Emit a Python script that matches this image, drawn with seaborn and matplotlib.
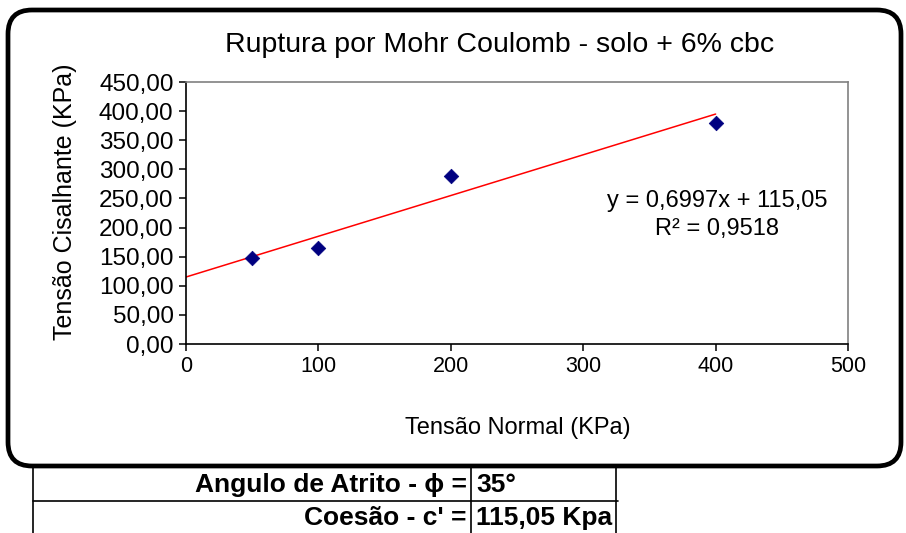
import numpy as np
import pandas as pd
import matplotlib
matplotlib.use("Agg")
import matplotlib.pyplot as plt
from matplotlib.patches import FancyBboxPatch
import seaborn as sns

# ---- data ----
normal_stress = [50, 100, 200, 400]          # Tensão Normal (KPa)
shear_stress = [148, 165, 289, 380]          # Tensão Cisalhante (KPa)
trend_slope = 0.6997
trend_intercept = 115.05
trend_x = [0, 400]
x_ticks = [0, 100, 200, 300, 400, 500]
x_tick_labels = ["0", "100", "200", "300", "400", "500"]
y_ticks = [0, 50, 100, 150, 200, 250, 300, 350, 400, 450]
y_tick_labels = ["0,00", "50,00", "100,00", "150,00", "200,00", "250,00",
                 "300,00", "350,00", "400,00", "450,00"]
title = "Ruptura por Mohr Coulomb - solo + 6% cbc"
eq_text = "y = 0,6997x + 115,05\nR² = 0,9518"
table_labels = ["Angulo de Atrito - ϕ =", "Coesão - c' ="]
table_values = ["35°", "115,05 Kpa"]

sns.set_theme(style="white")
plt.rcParams['font.family'] = ['Liberation Sans', 'DejaVu Sans']

W, H = 906, 533
fig = plt.figure(figsize=(W / 100, H / 100), dpi=100)
fig.patch.set_facecolor("white")

# background axes in pixel coordinates for frame and table
bg = fig.add_axes([0, 0, 1, 1])
bg.set_xlim(0, W)
bg.set_ylim(H, 0)
bg.axis("off")

frame = FancyBboxPatch((8, 10), 893, 456,
                       boxstyle="round,pad=0,rounding_size=24",
                       linewidth=3.4, edgecolor="black", facecolor="white",
                       zorder=1)
bg.add_patch(frame)

# table lines
tl = dict(color="black", lw=1.2, zorder=2)
bg.plot([33, 33], [468, 533], **tl)
bg.plot([471, 471], [468, 533], **tl)
bg.plot([616, 616], [468, 533], **tl)
bg.plot([33, 618], [501, 501], **tl)

row_y = [485, 518]
for lab, val, yy in zip(table_labels, table_values, row_y):
    bg.text(467, yy, lab, ha="right", va="center", fontsize=19,
            fontweight="bold", color="black", zorder=3,
            family=['Liberation Sans', 'DejaVu Sans'])
    bg.text(476, yy, val, ha="left", va="center", fontsize=19,
            fontweight="bold", color="black", zorder=3)

bg.text(500, 45, title, ha="center", va="center", fontsize=20.5, color="black")
bg.text(518, 428, "Tensão Normal (KPa)", ha="center", va="center",
        fontsize=17, color="black")
bg.text(65, 202, "Tensão Cisalhante (KPa)", ha="center", va="center",
        fontsize=18, rotation=90, color="black")

# ---- main plot ----
ax = fig.add_axes([186 / W, 1 - 344 / H, (848 - 186) / W, (344 - 82) / H])
ax.set_facecolor("white")

df = pd.DataFrame({"x": normal_stress, "y": shear_stress})
line_df = pd.DataFrame({"x": trend_x,
                        "y": [trend_slope * v + trend_intercept for v in trend_x]})

sns.lineplot(data=line_df, x="x", y="y", ax=ax, color="#ff0000", lw=1.1,
             zorder=2)
sns.scatterplot(data=df, x="x", y="y", ax=ax, marker="D", s=55,
                color="#000080", edgecolor="#000080", linewidth=0.5, zorder=3)

ax.set_xlim(0, 500)
ax.set_ylim(0, 450)
ax.set_xticks(x_ticks)
ax.set_xticklabels(x_tick_labels, fontsize=15.5)
ax.set_yticks(y_ticks)
ax.set_yticklabels(y_tick_labels, fontsize=17.5)
ax.set_xlabel("")
ax.set_ylabel("")
ax.tick_params(axis="both", direction="out", length=5, width=1.1,
               colors="black", pad=4, left=True, bottom=True)
for s in ["left", "bottom"]:
    ax.spines[s].set_color("black")
    ax.spines[s].set_linewidth(1.2)
for s in ["top", "right"]:
    ax.spines[s].set_color("#808080")
    ax.spines[s].set_linewidth(1.2)

# regression equation, positioned in figure pixel coordinates
ax.text(717, 215, eq_text, transform=bg.transData, ha="center", va="center",
        fontsize=17, color="black", linespacing=1.3, zorder=5)

fig.savefig("out.png", dpi=100)
